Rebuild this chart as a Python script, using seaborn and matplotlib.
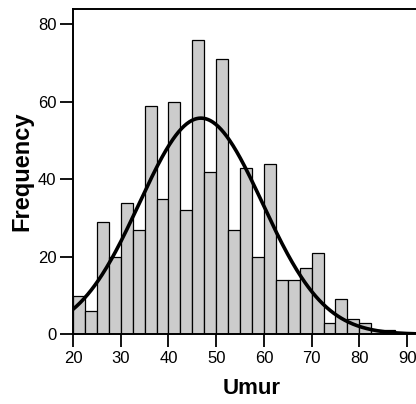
import numpy as np
import pandas as pd
import matplotlib
matplotlib.use("Agg")
import matplotlib.pyplot as plt
import seaborn as sns

# Data (bins of width 2.5 starting at 20)
bin_edges = [20 + 2.5 * i for i in range(28)]  # 20 .. 87.5
counts = [10, 6, 29, 20, 34, 27, 59, 35, 60, 32, 76, 42, 71, 27, 43, 20,
          44, 14, 14, 17, 21, 3, 9, 4, 3, 1, 1]
bin_width = 2.5
fit_mean = 46.8
fit_sd = 12.9
x_ticks = [20, 30, 40, 50, 60, 70, 80, 90]
y_ticks = [0, 20, 40, 60, 80]

sns.set_style("ticks")
plt.rcParams['font.family'] = ['Liberation Sans', 'DejaVu Sans']
plt.rcParams['text.color'] = 'black'
plt.rcParams['axes.labelcolor'] = 'black'

centers = [e + bin_width / 2 for e in bin_edges[:-1]]
df = pd.DataFrame({"Umur": centers, "count": counts})

fig = plt.figure(figsize=(4.16, 4.04), dpi=100)
ax = fig.add_axes([73 / 416, (404 - 334.3) / 404, 357 / 416, (334.3 - 9) / 404])

sns.histplot(data=df, x="Umur", weights="count", bins=bin_edges,
             color="#cccccc", edgecolor="black", linewidth=0.9, alpha=1.0, ax=ax)

n_total = sum(counts)
xs = np.linspace(20, 96, 400)
ys = n_total * bin_width / (fit_sd * np.sqrt(2 * np.pi)) * np.exp(-0.5 * ((xs - fit_mean) / fit_sd) ** 2)
sns.lineplot(x=xs, y=ys, color="black", linewidth=2.6, ax=ax)

ax.set_xlim(20, 94.8)
ax.set_ylim(0, 84)
ax.set_xticks(x_ticks)
ax.set_yticks(y_ticks)
ax.tick_params(axis="both", direction="out", length=9.4, width=1.3,
               labelsize=12, colors="black", pad=2.5)
for side in ["left", "top", "bottom", "right"]:
    ax.spines[side].set_linewidth(1.4)
    ax.spines[side].set_color("black")

ax.set_xlabel("Umur", fontsize=16, fontweight="bold", labelpad=9, color="black")
ax.set_ylabel("Frequency", fontsize=17, fontweight="bold", labelpad=3, color="black")

fig.savefig("out.png", dpi=100)
